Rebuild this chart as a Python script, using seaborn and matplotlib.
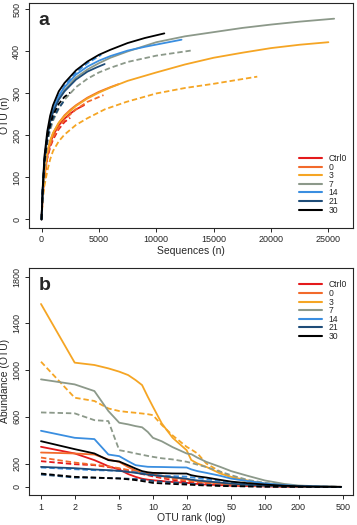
import pandas as pd
import numpy as np

import seaborn as sns
import matplotlib.pyplot as plt
from matplotlib.lines import Line2D


# groups and colours
groups = ['Ctrl0', '0', '3', '7', '14', '21', '30']
colors = ['#e41a1c', '#f26a2b', '#f5a524', '#8c998a', '#3a8ee0', '#1e4c78', '#000000']

# panel a: rarefaction curves (sequences, OTU), solid and dashed replicate per group
seq_ctrl0_s = [0, 100, 250, 500, 750, 1000, 1500, 2000, 2500, 3000, 3700]
otu_ctrl0_s = [0, 60, 100, 150, 180, 200, 224, 240, 252, 262, 272]
seq_ctrl0_d = [0, 100, 250, 500, 750, 1000, 1500, 2000, 2500]
otu_ctrl0_d = [0, 55, 98, 145, 172, 190, 215, 232, 242]
seq_0_s = [0, 100, 250, 500, 750, 1000, 1500, 2000, 2500, 3000, 4000, 5000, 6000, 6700]
otu_0_s = [0, 60, 105, 160, 187, 205, 230, 248, 261, 272, 290, 304, 315, 322]
seq_0_d = [0, 100, 250, 500, 750, 1000, 1500, 2000, 2500, 3000, 4000, 5400]
otu_0_d = [0, 55, 100, 150, 176, 195, 219, 237, 250, 262, 280, 296]
seq_3_s = [0, 100, 250, 500, 750, 1000, 1500, 2000, 3000, 4000, 5000, 6000, 7500, 10000,
           12500, 15000, 17500, 20000, 22500, 25000]
otu_3_s = [0, 60, 105, 160, 186, 206, 230, 246, 270, 288, 302, 314, 330, 350,
           369, 385, 397, 408, 416, 422]
seq_3_d = [0, 100, 250, 500, 750, 1000, 1500, 2000, 3000, 4000, 5500, 7400, 10000,
           12500, 15000, 17000, 18800]
otu_3_d = [0, 45, 80, 115, 143, 163, 186, 202, 225, 241, 262, 280, 300,
           313, 323, 332, 340]
seq_7_s = [0, 100, 250, 500, 750, 1000, 1500, 2000, 3000, 4000, 5000, 6000, 7500, 10000,
           12500, 15000, 17500, 20000, 22500, 25500]
otu_7_s = [0, 70, 140, 200, 235, 258, 288, 308, 338, 357, 372, 385, 400, 422,
           436, 446, 456, 464, 471, 478]
seq_7_d = [0, 100, 250, 500, 750, 1000, 1500, 2000, 3000, 4000, 5000, 6000, 7500, 10000,
           11500, 13000]
otu_7_d = [0, 65, 125, 180, 212, 235, 264, 285, 315, 335, 350, 361, 375, 390,
           396, 402]
seq_14_s = [0, 100, 250, 500, 750, 1000, 1500, 2000, 3000, 4000, 5000, 6000, 7500, 9000,
            10500, 12200]
otu_14_s = [0, 70, 140, 200, 236, 262, 295, 315, 345, 364, 378, 389, 402, 411,
            419, 428]
seq_14_d = [0, 100, 250, 500, 750, 1000, 1500, 2000, 3000, 4000, 5200]
otu_14_d = [0, 70, 135, 195, 232, 258, 292, 318, 350, 372, 392]
seq_21_s = [0, 100, 250, 500, 750, 1000, 1500, 2000, 3000, 4000, 4800, 5500]
otu_21_s = [0, 70, 140, 198, 232, 255, 285, 305, 333, 352, 362, 370]
seq_21_d = [0, 100, 250, 500, 750, 1000, 1500, 1900]
otu_21_d = [0, 68, 132, 190, 220, 240, 265, 280]
seq_30_s = [0, 100, 250, 500, 750, 1000, 1500, 2000, 3000, 4000, 5000, 6000, 7500, 9000, 10700]
otu_30_s = [0, 75, 150, 210, 247, 272, 305, 325, 355, 376, 392, 404, 420, 432, 443]
seq_30_d = [0, 100, 250, 500, 750, 1000, 1500, 2000, 2500]
otu_30_d = [0, 70, 138, 195, 226, 248, 275, 292, 302]

# panel b: rank abundance curves, values at these OTU ranks
ranks = [1, 2, 3, 4, 5, 6, 7, 8, 9, 10, 12, 15, 20, 22, 25, 30, 40, 50, 70, 100, 150, 200, 300, 480]
ab_ctrl0_s = [343, 286, 229, 177, 149, 110, 86, 70, 62, 57, 50, 42, 35, 30, 25, 20, 15, 10, 7, 4, 2, 1, 0, 0]
ab_ctrl0_d = [220, 194, 186, 170, 155, 140, 125, 110, 100, 90, 75, 60, 45, 38, 33, 27, 20, 15, 10, 6, 3, 2, 1, 0]
ab_0_s = [294, 286, 277, 234, 214, 170, 140, 120, 112, 109, 95, 80, 65, 55, 48, 40, 30, 22, 15, 8, 4, 2, 1, 0]
ab_0_d = [251, 208, 190, 175, 160, 145, 130, 118, 108, 100, 85, 70, 55, 48, 42, 35, 27, 20, 13, 8, 4, 2, 1, 0]
ab_3_s = [1565, 1063, 1043, 1014, 986, 957, 914, 871, 771, 686, 543, 420, 314, 230, 200, 171, 114, 86, 55, 28, 14, 8, 3, 0]
ab_3_d = [1071, 763, 735, 671, 649, 640, 634, 628, 622, 614, 530, 440, 343, 320, 286, 200, 130, 80, 45, 22, 10, 5, 2, 0]
ab_7_s = [920, 877, 820, 649, 549, 535, 520, 510, 470, 420, 390, 340, 286, 280, 250, 214, 171, 135, 95, 55, 25, 12, 5, 0]
ab_7_d = [637, 629, 571, 563, 314, 300, 286, 275, 265, 257, 245, 235, 215, 205, 190, 170, 130, 100, 60, 35, 15, 8, 3, 0]
ab_14_s = [480, 420, 409, 277, 263, 220, 186, 178, 172, 171, 170, 168, 166, 150, 135, 120, 95, 71, 50, 30, 15, 8, 3, 0]
ab_14_d = [166, 151, 143, 140, 137, 130, 125, 118, 110, 103, 97, 92, 88, 82, 75, 65, 52, 40, 25, 14, 7, 4, 2, 0]
ab_21_s = [171, 160, 149, 143, 137, 128, 120, 112, 105, 100, 92, 82, 70, 62, 55, 48, 37, 28, 18, 10, 5, 3, 1, 0]
ab_21_d = [106, 80, 78, 75, 73, 70, 67, 62, 55, 50, 45, 38, 30, 26, 22, 18, 13, 9, 6, 3, 2, 1, 0, 0]
ab_30_s = [391, 323, 286, 229, 217, 185, 157, 135, 125, 120, 118, 115, 114, 100, 90, 80, 60, 45, 32, 20, 10, 5, 2, 0]
ab_30_d = [114, 86, 80, 75, 72, 65, 58, 50, 42, 34, 30, 25, 20, 18, 15, 12, 8, 6, 4, 2, 1, 1, 0, 0]


# build long tables
rare = [
    ('Ctrl0', 'solid', seq_ctrl0_s, otu_ctrl0_s), ('Ctrl0', 'dashed', seq_ctrl0_d, otu_ctrl0_d),
    ('0', 'solid', seq_0_s, otu_0_s), ('0', 'dashed', seq_0_d, otu_0_d),
    ('3', 'solid', seq_3_s, otu_3_s), ('3', 'dashed', seq_3_d, otu_3_d),
    ('7', 'solid', seq_7_s, otu_7_s), ('7', 'dashed', seq_7_d, otu_7_d),
    ('14', 'solid', seq_14_s, otu_14_s), ('14', 'dashed', seq_14_d, otu_14_d),
    ('21', 'solid', seq_21_s, otu_21_s), ('21', 'dashed', seq_21_d, otu_21_d),
    ('30', 'solid', seq_30_s, otu_30_s), ('30', 'dashed', seq_30_d, otu_30_d),
]
df_a = pd.concat([pd.DataFrame({'Sequences': x, 'OTU': y, 'group': g, 'kind': k})
                  for g, k, x, y in rare], ignore_index=True)

rank_ab = [
    ('Ctrl0', 'solid', ab_ctrl0_s), ('Ctrl0', 'dashed', ab_ctrl0_d),
    ('0', 'solid', ab_0_s), ('0', 'dashed', ab_0_d),
    ('3', 'solid', ab_3_s), ('3', 'dashed', ab_3_d),
    ('7', 'solid', ab_7_s), ('7', 'dashed', ab_7_d),
    ('14', 'solid', ab_14_s), ('14', 'dashed', ab_14_d),
    ('21', 'solid', ab_21_s), ('21', 'dashed', ab_21_d),
    ('30', 'solid', ab_30_s), ('30', 'dashed', ab_30_d),
]
df_b = pd.concat([pd.DataFrame({'Rank': ranks, 'Abundance': y, 'group': g, 'kind': k})
                  for g, k, y in rank_ab], ignore_index=True)

sns.set_style('ticks')
plt.rcParams['font.family'] = ['Liberation Sans', 'DejaVu Sans']
plt.rcParams['xtick.major.size'] = 3
plt.rcParams['ytick.major.size'] = 3
plt.rcParams['axes.linewidth'] = 0.8

palette = dict(zip(groups, colors))
dashes = {'solid': '', 'dashed': (3, 1.6)}

fig = plt.figure(figsize=(3.57, 5.25), dpi=100)
ax_a = fig.add_axes([0.081, 0.566, 0.908, 0.428])
ax_b = fig.add_axes([0.081, 0.057, 0.908, 0.433])

sns.lineplot(data=df_a, x='Sequences', y='OTU', hue='group', style='kind',
             palette=palette, dashes=dashes, hue_order=groups, style_order=['dashed', 'solid'],
             estimator=None, sort=False, lw=1.3, legend=False, ax=ax_a)
sns.lineplot(data=df_b, x='Rank', y='Abundance', hue='group', style='kind',
             palette=palette, dashes=dashes, hue_order=groups, style_order=['dashed', 'solid'],
             estimator=None, sort=False, lw=1.3, legend=False, ax=ax_b)

# panel a axes
ax_a.set_xlim(-1100, 27150)
ax_a.set_ylim(-20, 515)
ax_a.set_xticks([0, 5000, 10000, 15000, 20000, 25000])
ax_a.set_yticks([0, 100, 200, 300, 400, 500])
ax_a.set_xlabel('Sequences (n)', fontsize=7.5, labelpad=1)
ax_a.set_ylabel('OTU (n)', fontsize=7.5, labelpad=2)
ax_a.text(0.03, 0.96, 'a', transform=ax_a.transAxes, fontsize=14, fontweight='bold', va='top')

# panel b axes
ax_b.set_xscale('log')
ax_b.set_xlim(0.78, 614)
ax_b.set_ylim(-70, 1875)
ax_b.set_xticks([1, 2, 5, 10, 20, 50, 100, 200, 500])
ax_b.set_xticklabels(['1', '2', '5', '10', '20', '50', '100', '200', '500'])
ax_b.minorticks_off()
ax_b.set_yticks([0, 200, 600, 1000, 1400, 1800])
ax_b.set_xlabel('OTU rank (log)', fontsize=7.5, labelpad=1)
ax_b.set_ylabel('Abundance (OTU)', fontsize=7.5, labelpad=2)
ax_b.text(0.03, 0.96, 'b', transform=ax_b.transAxes, fontsize=14, fontweight='bold', va='top')

for ax in (ax_a, ax_b):
    ax.tick_params(labelsize=6.5, width=0.7, pad=2.5)
    for lab in ax.get_yticklabels():
        lab.set_rotation(90)
        lab.set_va('center')
    for sp in ax.spines.values():
        sp.set_visible(True)

handles = [Line2D([0], [0], color=c, lw=1.5) for c in colors]
ax_a.legend(handles, groups, loc='lower right', bbox_to_anchor=(0.995, 0.04), frameon=False,
            fontsize=6.2, handlelength=2.6, labelspacing=-0.05, handletextpad=0.8, borderpad=0)
ax_b.legend(handles, groups, loc='upper right', bbox_to_anchor=(0.995, 0.963), frameon=False,
            fontsize=6.2, handlelength=2.6, labelspacing=-0.05, handletextpad=0.8, borderpad=0)

fig.savefig('out.png', dpi=100)
